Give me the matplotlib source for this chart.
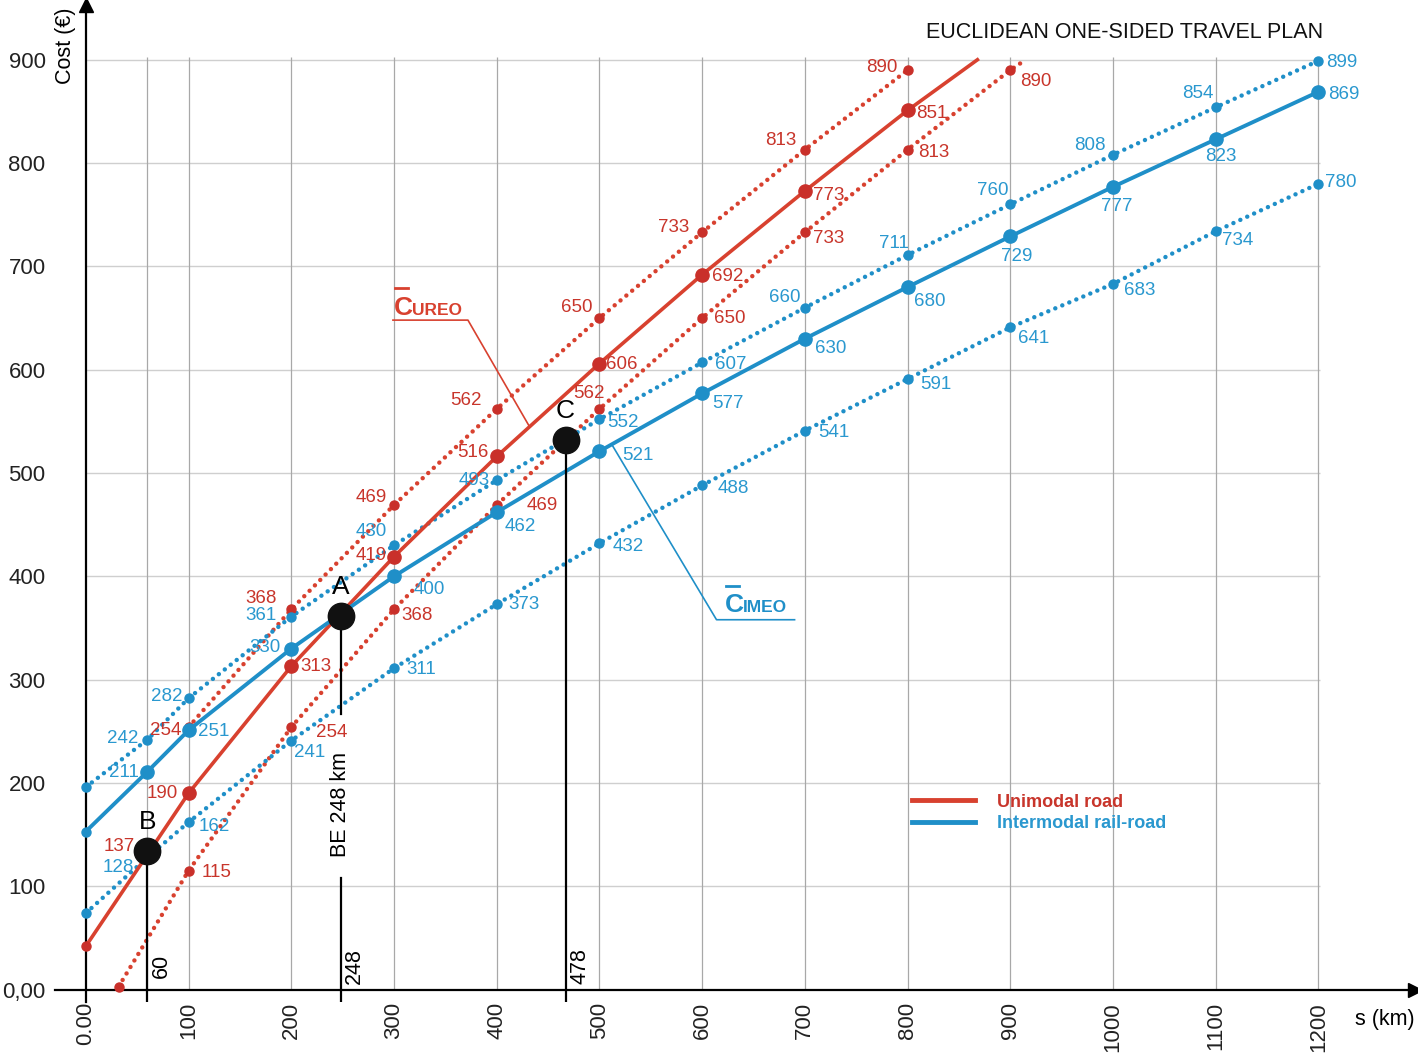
import numpy as np
import matplotlib.pyplot as plt
from matplotlib.lines import Line2D

plt.rcParams['font.family'] = ['Liberation Sans', 'DejaVu Sans']

# ---------------------------------------------------------------------------
# data
# unimodal road (mean + upper/lower band)
road_s = [0, 100, 200, 300, 400, 500, 600, 700, 800]
road_cost = [42, 190, 313, 419, 516, 606, 692, 773, 851]
road_end = (868, 900)
road_hi_s = [100, 200, 300, 400, 500, 600, 700, 800]
road_hi_cost = [254, 368, 469, 562, 650, 733, 813, 890]
road_lo_s = [32, 100, 200, 300, 400, 500, 600, 700, 800, 900]
road_lo_cost = [3, 115, 254, 368, 469, 562, 650, 733, 813, 890]
road_lo_end = (915, 900)

# intermodal rail-road (mean + upper/lower band)
rail_s = [0, 60, 100, 200, 300, 400, 500, 600, 700, 800, 900, 1000, 1100, 1200]
rail_cost = [153, 211, 251, 330, 400, 462, 521, 577, 630, 680, 729, 777, 823, 869]
rail_hi_cost = [196, 242, 282, 361, 430, 493, 552, 607, 660, 711, 760, 808, 854, 899]
rail_lo_cost = [74, 128, 162, 241, 311, 373, 432, 488, 541, 591, 641, 683, 734, 780]

# break-even points
break_names = ['B', 'A', 'C']
break_s = [60, 248, 467]
break_cost = [134, 362, 532]
break_text = ['60', '248', '478']
b_road_label = '137'

x_ticks = [0, 100, 200, 300, 400, 500, 600, 700, 800, 900, 1000, 1100, 1200]
x_ticklabels = ['0.00'] + [str(v) for v in x_ticks[1:]]
y_ticks = [0, 100, 200, 300, 400, 500, 600, 700, 800, 900]
y_ticklabels = ['0,00'] + [str(v) for v in y_ticks[1:]]

# label offsets (pixels, text centre relative to the marker)
road_off = [None, (-26, 0), (25, 0), (-23, 1), (-24, 4), (22, -1), (26, -2), (24, -5), (24, -3)]
road_hi_off = [(-23, -3), (-30, 11), (-23, 8), (-31, 8), (-23, 11), (-29, 5), (-24, 9), (-26, 3)]
road_lo_off = [None, (28, -2), (40, -5), (23, -6), (46, 0), (-10, 15), (28, 0), (24, -6), (26, -3), (26, -11)]
rail_off = [None, (-24, -1), (25, -1), (-26, 1), (35, -13), (24, -14), (38, -4), (26, -10), (26, -10),
            (22, -14), (6, -20), (4, -20), (5, -17), (25, -3)]
rail_hi_off = [None, (-25, 1), (-22, 2), (-30, 1), (-23, 14), (-23, 0), (24, -3), (29, -2), (-20, 10),
               (-14, 12), (-18, 14), (-23, 9), (-18, 14), (23, -2)]
rail_lo_off = [None, (-29, -10), (26, -4), (18, -12), (27, -1), (27, 0), (29, -3), (31, -3), (29, -2),
               (28, -5), (23, -11), (27, -7), (22, -9), (22, 1)]

RED = '#d8412f'
RED_DOT = '#c9302a'
RED_TXT = '#c8352b'
BLUE = '#1f8fc8'
BLUE_TXT = '#2a98cf'
DOTS = (0, (0.01, 1.7))

# ---------------------------------------------------------------------------
fig = plt.figure(figsize=(14.18, 10.58), dpi=100)
ax = fig.add_axes([55 / 1418, 56 / 1058, 1360 / 1418, 997 / 1058])
ax.set_xlim(-30, 1294)
ax.set_ylim(-12, 953)

for side in ['top', 'right']:
    ax.spines[side].set_visible(False)
ax.spines['left'].set_position(('data', 0))
ax.spines['bottom'].set_position(('data', 0))
for side in ['left', 'bottom']:
    ax.spines[side].set_linewidth(1.6)
ax.plot(0, 1, '^k', ms=10, transform=ax.get_xaxis_transform(), clip_on=False)
ax.plot(1, 0, '>k', ms=10, transform=ax.get_yaxis_transform(), clip_on=False)

ax.set_xticks(x_ticks, x_ticklabels, rotation=90)
ax.set_yticks(y_ticks, y_ticklabels)
ax.tick_params(axis='x', length=0, pad=9, labelsize=16, colors='#222222')
ax.tick_params(axis='y', length=0, pad=29, labelsize=16, colors='#222222')

# grid
ax.hlines(y_ticks[1:], 0, 1202, color='#cfcfcf', lw=1.0, zorder=0)
ax.vlines([60] + x_ticks[1:], 0, 903, color='#a8a8a8', lw=0.9, zorder=0)


def label_points(s, cost, offs, color):
    for xv, yv, off in zip(s, cost, offs):
        if off is None:
            continue
        ax.annotate(str(yv), (xv, yv), xytext=off, textcoords='offset pixels',
                    ha='center', va='center', fontsize=13.5, color=color, zorder=6)


# dotted band lines
ax.plot(road_hi_s, road_hi_cost, color=RED, lw=3.2, ls=DOTS, dash_capstyle='round', zorder=2)
ax.plot(road_hi_s, road_hi_cost, 'o', color=RED_DOT, ms=6.5, zorder=3)
ax.plot(road_lo_s + [road_lo_end[0]], road_lo_cost + [road_lo_end[1]], color=RED, lw=3.2, ls=DOTS,
        dash_capstyle='round', zorder=2)
ax.plot(road_lo_s, road_lo_cost, 'o', color=RED_DOT, ms=6.5, zorder=3)
for band in [rail_hi_cost, rail_lo_cost]:
    ax.plot(rail_s, band, color=BLUE, lw=3.2, ls=DOTS, dash_capstyle='round', zorder=2)
    ax.plot(rail_s, band, 'o', color=BLUE, ms=6.5, zorder=3)

# mean lines
ax.plot(road_s + [road_end[0]], road_cost + [road_end[1]], color=RED, lw=2.6, zorder=4)
ax.plot(road_s[1:], road_cost[1:], 'o', color=RED_DOT, ms=9.5, zorder=4)
ax.plot(road_s[:1], road_cost[:1], 'o', color=RED_DOT, ms=6.5, zorder=4)
ax.plot(rail_s, rail_cost, color=BLUE, lw=2.8, zorder=4)
ax.plot(rail_s[1:], rail_cost[1:], 'o', color=BLUE, ms=9.5, zorder=4)
ax.plot(rail_s[:1], rail_cost[:1], 'o', color=BLUE, ms=6.5, zorder=4)

label_points(road_s, road_cost, road_off, RED_TXT)
label_points(road_hi_s, road_hi_cost, road_hi_off, RED_TXT)
label_points(road_lo_s, road_lo_cost, road_lo_off, RED_TXT)
label_points(rail_s, rail_cost, rail_off, BLUE_TXT)
label_points(rail_s, rail_hi_cost, rail_hi_off, BLUE_TXT)
label_points(rail_s, rail_lo_cost, rail_lo_off, BLUE_TXT)

# break-even points and their verticals
for name, xv, yv, txt in zip(break_names, break_s, break_cost, break_text):
    if name == 'A':
        ax.plot([xv, xv], [yv, 267], color='k', lw=1.6, zorder=5)
        ax.plot([xv, xv], [108, -12], color='k', lw=1.6, zorder=5)
        ax.text(xv, 179, 'BE 248 km', rotation=90, ha='center', va='center', fontsize=15.5)
    else:
        ax.plot([xv, xv], [yv, -12], color='k', lw=1.6, zorder=5)
    ax.plot(xv, yv, 'o', color='#111111', ms=19, zorder=7)
    ax.annotate(name, (xv, yv), xytext=(0, 29), textcoords='offset pixels',
                ha='center', va='center', fontsize=19, zorder=8)
    ax.annotate(txt, (xv, 0), xytext=(14, 24), textcoords='offset pixels',
                ha='center', va='center', rotation=90, fontsize=15.5)
ax.annotate(b_road_label, (break_s[0], break_cost[0]), xytext=(-28, 5), textcoords='offset pixels',
            ha='center', va='center', fontsize=13.5, color=RED_TXT, zorder=8)

# curve name callouts
ureo_y = np.interp(432, road_s, road_cost)
ax.plot([299, 372, 432], [648, 648, ureo_y], color=RED, lw=1.2, zorder=5)
ax.text(300, 653, 'C', fontsize=19, fontweight='bold', color=RED, va='baseline')
ax.text(318, 653, 'UREO', fontsize=12.5, fontweight='bold', color=RED, va='baseline')
ax.plot([301, 314], [679, 679], color=RED, lw=2)

imeo_y = np.interp(512, rail_s, rail_cost)
ax.plot([690, 614, 512], [358, 358, imeo_y], color=BLUE, lw=1.2, zorder=5)
ax.text(622, 365, 'C', fontsize=19, fontweight='bold', color=BLUE, va='baseline')
ax.text(640, 365, 'IMEO', fontsize=12.5, fontweight='bold', color=BLUE, va='baseline')
ax.plot([623, 636], [391, 391], color=BLUE, lw=2)

# legend
handles = [Line2D([], [], color=RED, lw=3.5), Line2D([], [], color=BLUE, lw=3.5)]
leg = ax.legend(handles, ['Unimodal road', 'Intermodal rail-road'], loc='upper left',
                bbox_to_anchor=(0.630, 0.209), frameon=False, fontsize=13, handlelength=3.5,
                handletextpad=1.2, labelspacing=0.25, borderpad=0, borderaxespad=0)
for t, c in zip(leg.get_texts(), [RED_TXT, BLUE_TXT]):
    t.set_color(c)
    t.set_fontweight('bold')

fig.text(1125 / 1418, 1 - 33 / 1058, 'EUCLIDEAN ONE-SIDED TRAVEL PLAN', ha='center', va='center',
         fontsize=15.5, color='#111111')
fig.text(66 / 1418, 1 - 46 / 1058, 'Cost (€)', rotation=90, ha='center', va='center', fontsize=15.5)
fig.text(1385 / 1418, 1 - 1020 / 1058, 's (km)', ha='center', va='center', fontsize=15.5)

fig.savefig('out.png', dpi=100)
